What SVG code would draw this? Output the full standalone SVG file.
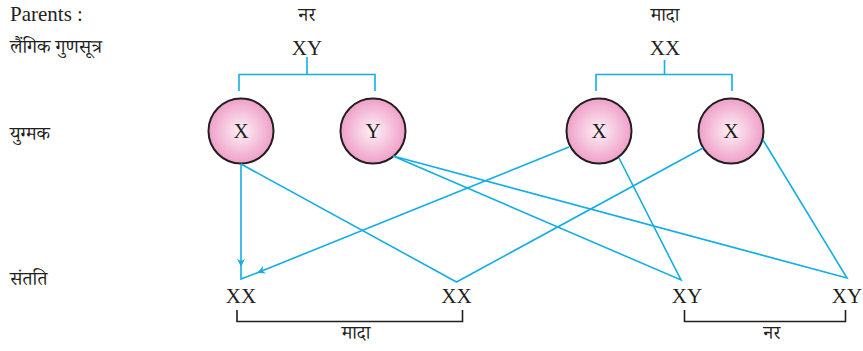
<svg xmlns="http://www.w3.org/2000/svg" width="863" height="351" viewBox="0 0 863 351">
<style>
.lat{font-family:"Liberation Serif","Times New Roman",serif;font-size:21px;fill:#231f20}
.dev{font-family:"Noto Serif Devanagari","Noto Sans Devanagari","Lohit Devanagari","Noto Sans",sans-serif;font-size:19px;fill:#231f20}
.c{stroke:#14ade6;stroke-width:1.6;fill:none}
.b{stroke:#231f20;stroke-width:1.6;fill:none}
.g{fill:url(#pink);stroke:#231f20;stroke-width:2}
</style>
<defs>
<radialGradient id="pink" cx="50%" cy="50%" r="55%">
<stop offset="0" stop-color="#fdf2f7"/>
<stop offset="1" stop-color="#ee97c3"/>
</radialGradient>
<marker id="ar" viewBox="0 0 10 10" refX="9" refY="5" markerWidth="8" markerHeight="8" markerUnits="userSpaceOnUse" orient="auto">
<path d="M0,0 L10,5 L0,10 L3,5 Z" fill="#14ade6"/>
</marker>
</defs>
<g id="labels">
<text class="lat" x="10" y="21" font-size="19">Parents :</text>
<text class="dev" x="10" y="53">लैंगिक गुणसूत्र</text>
<text class="dev" x="10" y="140">युग्मक</text>
<text class="dev" x="10" y="285">संतति</text>
<text class="dev" x="307" y="21" text-anchor="middle">नर</text>
<text class="dev" x="665" y="21" text-anchor="middle">मादा</text>
</g>
<g id="parent-male"><text class="lat" x="307" y="55" text-anchor="middle">XY</text></g>
<g id="parent-female"><text class="lat" x="665" y="55" text-anchor="middle">XX</text></g>
<g id="gamete-x1"><circle class="g" cx="241" cy="131" r="32.5"/><text class="lat" x="241" y="138" text-anchor="middle" font-size="20">X</text></g>
<g id="gamete-y"><circle class="g" cx="373" cy="131" r="32.5"/><text class="lat" x="373" y="138" text-anchor="middle" font-size="20">Y</text></g>
<g id="gamete-x3"><circle class="g" cx="599" cy="131" r="32.5"/><text class="lat" x="599" y="138" text-anchor="middle" font-size="20">X</text></g>
<g id="gamete-x4"><circle class="g" cx="731" cy="131" r="32.5"/><text class="lat" x="731" y="138" text-anchor="middle" font-size="20">X</text></g>
<g id="off-xx1"><text class="lat" x="241" y="303" text-anchor="middle">XX</text></g>
<g id="off-xx2"><text class="lat" x="456.5" y="303" text-anchor="middle">XX</text></g>
<g id="off-xy1"><text class="lat" x="687" y="303" text-anchor="middle">XY</text></g>
<g id="off-xy2"><text class="lat" x="847" y="303" text-anchor="middle">XY</text></g>
<g id="groups">
<path class="b" d="M237,310 V321.5 H462.5 V310"/>
<text class="dev" x="356" y="339" text-anchor="middle">मादा</text>
<path class="b" d="M684.5,310 V321.5 H845.5 V310"/>
<text class="dev" x="772" y="339" text-anchor="middle">नर</text>
</g>
<g id="connectors">
<path class="c" d="M307,57 V74.5 M239,91 V74.5 H375 V91"/>
<path class="c" d="M664.5,60 V74.5 M596,91 V74.5 H732 V91"/>
<path class="c" d="M241,164 L241,266" marker-end="url(#ar)"/>
<path class="c" d="M241,266 L241,279 L258,272.5"/>
<path class="c" d="M569,147 L258,272.5" marker-end="url(#ar)"/>
<path class="c" d="M241,164 L456.5,282 L703,148"/>
<path class="c" d="M393,156 L681,280 L619,158"/>
<path class="c" d="M393,156 L847,278 L763,140"/>
</g>
</svg>
